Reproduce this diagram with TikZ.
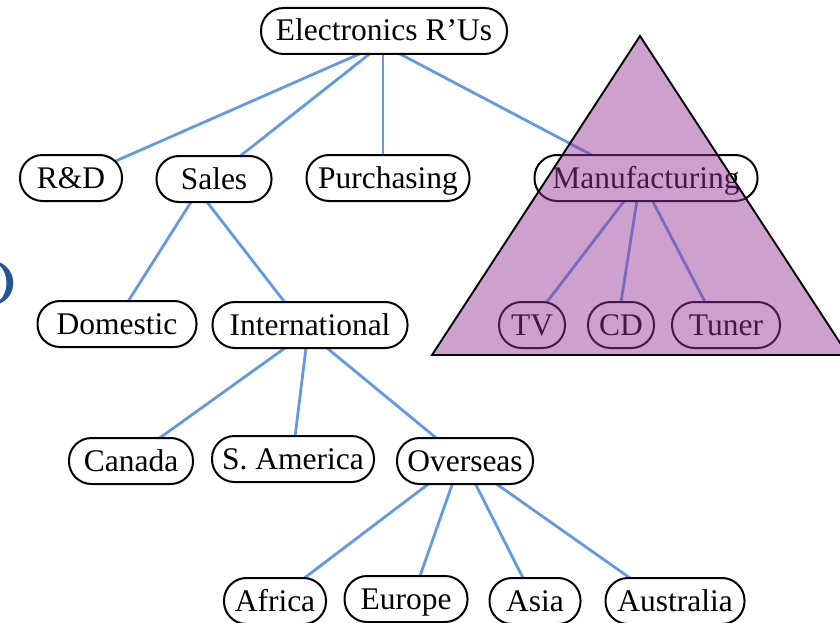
\documentclass[tikz,border=0pt]{standalone}
\usepackage{fontspec}
\setmainfont{Liberation Serif}
\usetikzlibrary{backgrounds}
\definecolor{linkblue}{RGB}{98,154,226}
\definecolor{pyramid}{RGB}{150,51,150}
\definecolor{parenblue}{RGB}{38,84,150}
\tikzset{
  orgnode/.style={draw=black, line width=2pt, fill=white, rounded corners=22.5pt,
    minimum height=46pt, inner sep=0pt, text height=24pt, text depth=4pt,
    font=\fontsize{31.5}{36}\selectfont},
  link/.style={draw=linkblue, line width=2.8pt},
  pyr/.style={fill=pyramid, fill opacity=0.466, draw=black, draw opacity=1, line width=1.9pt, line join=miter}
}
\begin{document}
\begin{tikzpicture}[x=1pt, y=-1pt]
\useasboundingbox (0,0) rectangle (840,623);
\clip (0,0) rectangle (840,623);

% organisation chart
\node[orgnode, minimum width=246pt] (root) at (384,31) {Electronics R'Us};

\node[orgnode, minimum width=102pt] (rd)   at (71,178)  {R\&D};
\node[orgnode, minimum width=115pt] (sales) at (214,179) {Sales};
\node[orgnode, minimum width=163pt] (purch) at (388,178) {Purchasing};
\node[orgnode, minimum width=223pt] (manu) at (646,178) {Manufacturing};

\node[orgnode, minimum width=159pt] (dom)  at (117,324) {Domestic};
\node[orgnode, minimum width=195pt] (intl) at (310,325) {International};

\node[orgnode, minimum width=66pt]  (tv)    at (532,325) {TV};
\node[orgnode, minimum width=66pt]  (cd)    at (621,325) {CD};
\node[orgnode, minimum width=108pt] (tuner) at (726,325) {Tuner};

\node[orgnode, minimum width=124pt] (can)  at (131,461) {Canada};
\node[orgnode, minimum width=162pt] (sam)  at (293,459) {S. America};
\node[orgnode, minimum width=136pt] (over) at (465,461) {Overseas};

\node[orgnode, minimum width=102pt] (afr)  at (275,601) {Africa};
\node[orgnode, minimum width=123pt] (eur)  at (406,599) {Europe};
\node[orgnode, minimum width=91pt]  (asia) at (535,601) {Asia};
\node[orgnode, minimum width=139pt] (aus)  at (675,601) {Australia};

% reporting lines, drawn behind the boxes; each end is offset sideways
% from the centre of its box
\begin{scope}[on background layer]
  \foreach \p/\dp/\c/\dc in {root/27.6/rd/6, root/14.6/sales/-2.9,
                             root/-1/purch/-5, root/-27.6/manu/-10.6,
                             sales/-8.4/dom/-3.2, sales/-24.8/intl/-7.6,
                             intl/7/can/-3.4, intl/-1.2/sam/-0.7, intl/-10.9/over/-0.9,
                             over/-6.3/afr/-1, over/-4.6/eur/5.9,
                             over/-1.1/asia/-0.4, over/-1.1/aus/-12.4,
                             manu/-4.2/tv/-2.6, manu/-5.5/cd/-3.6, manu/-5.4/tuner/-9}
    \draw[link] ([xshift=\dp pt]\p.center) -- ([xshift=\dc pt]\c.center);
\end{scope}

% highlighted manufacturing subtree
\path[pyr] (640,36) -- (432,355) -- (848,355) -- cycle;

% bracket at the left edge
\fill[parenblue] (-1,262) .. controls (18,270) and (18,296) .. (-1,304)
                 -- (-1,301) .. controls (9,293) and (9,273) .. (-1,265) -- cycle;
\end{tikzpicture}
\end{document}
